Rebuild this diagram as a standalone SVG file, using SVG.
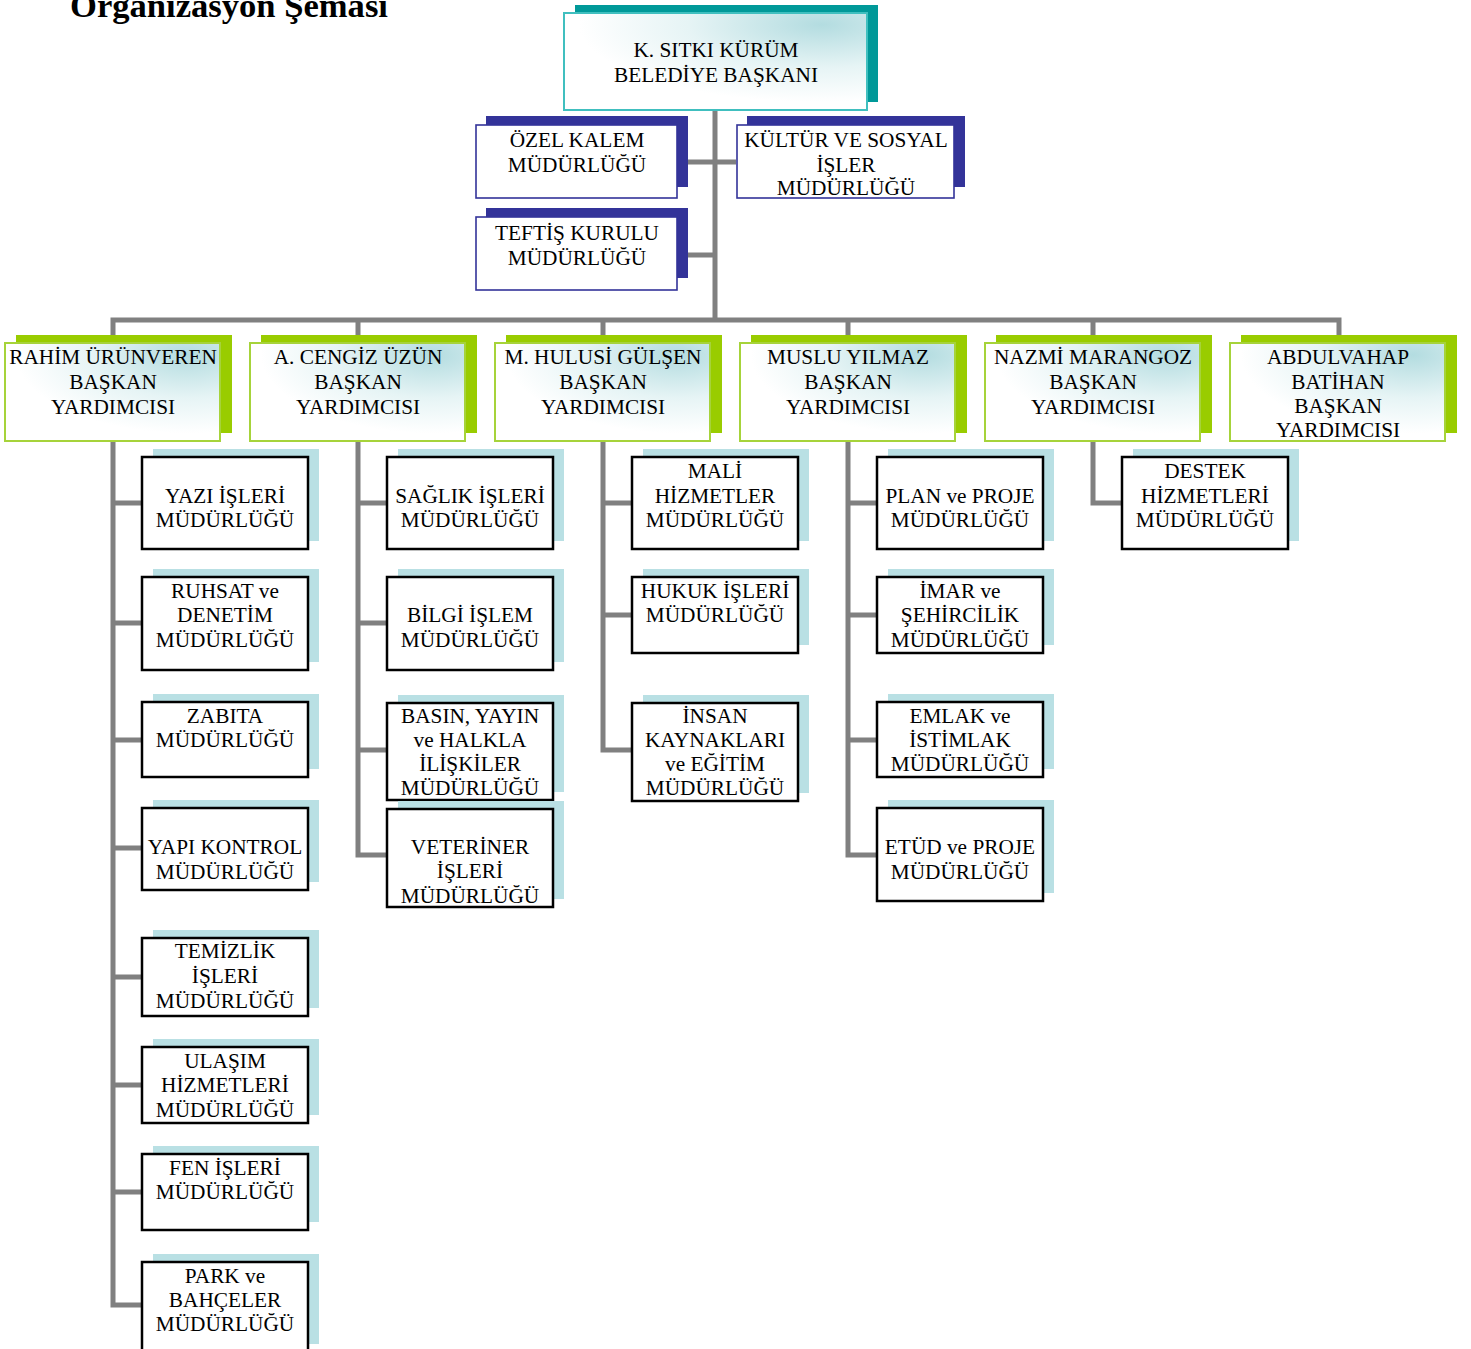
<svg xmlns="http://www.w3.org/2000/svg" width="1471" height="1349" viewBox="0 0 1471 1349">
<defs>
<radialGradient id="g" cx="0.85" cy="0.12" r="0.8">
<stop offset="0" stop-color="#b3dce0"/>
<stop offset="0.55" stop-color="#e6f4f5"/>
<stop offset="1" stop-color="#ffffff"/>
</radialGradient>
</defs>
<style>
text{font-family:"Liberation Serif","Times New Roman",serif;font-size:21.3px;fill:#000;text-anchor:middle}
.title{font-size:34.6px;font-weight:bold;text-anchor:start}
.conn{fill:none;stroke:#808080;stroke-width:5;stroke-linejoin:miter}
.rs{fill:#009999}
.rm{fill:url(#g);stroke:#40bfbf;stroke-width:2}
.ss{fill:#333399}
.sm{fill:#fff;stroke:#333399;stroke-width:1.6}
.vs{fill:#99cc00}
.vm{fill:url(#g);stroke:#a6d33a;stroke-width:2}
.cs{fill:#b9e0e4}
.cm{fill:#fff;stroke:#000;stroke-width:2.5}
</style>
<rect width="1471" height="1349" fill="#fff"/>
<text class="title" x="70" y="17">Organizasyon Şeması</text>

<g id="connectors">
<path class="conn" d="M715,111 V320"/>
<path class="conn" d="M677,162 H736"/>
<path class="conn" d="M677,255 H715"/>
<path class="conn" d="M113,343 V320 H1339 V343"/>
<path class="conn" d="M358,320 V343 M603,320 V343 M848,320 V343 M1093,320 V343"/>
<path class="conn" d="M113,441 V1305 H142 M113,503 H142 M113,623 H142 M113,740 H142 M113,848 H142 M113,977 H142 M113,1085 H142 M113,1192 H142"/>
<path class="conn" d="M358,441 V855 H387 M358,503 H387 M358,623 H387 M358,750 H387"/>
<path class="conn" d="M603,441 V750 H632 M603,503 H632 M603,615 H632"/>
<path class="conn" d="M848,441 V855 H877 M848,503 H877 M848,615 H877 M848,740 H877"/>
<path class="conn" d="M1093,441 V503 H1122"/>
</g>

<g id="root">
<rect class="rs" x="575" y="5" width="303" height="97"/>
<rect class="rm" x="564" y="13" width="303" height="97"/>
<text x="716" y="57">K. SITKI KÜRÜM</text>
<text x="716" y="82">BELEDİYE BAŞKANI</text>
</g>

<g id="ozel-kalem">
<rect class="ss" x="486" y="116" width="202" height="71"/>
<rect class="sm" x="476" y="125" width="201" height="73"/>
<text x="577" y="147">ÖZEL KALEM</text>
<text x="577" y="172">MÜDÜRLÜĞÜ</text>
</g>

<g id="kultur">
<rect class="ss" x="747" y="116" width="218" height="71"/>
<rect class="sm" x="737" y="125" width="217" height="73"/>
<text x="846" y="147">KÜLTÜR VE SOSYAL</text>
<text x="846" y="172">İŞLER</text>
<text x="846" y="195">MÜDÜRLÜĞÜ</text>
</g>

<g id="teftis">
<rect class="ss" x="486" y="208" width="202" height="70"/>
<rect class="sm" x="476" y="217" width="201" height="73"/>
<text x="577" y="240">TEFTİŞ KURULU</text>
<text x="577" y="265">MÜDÜRLÜĞÜ</text>
</g>

<g id="vp-rahim">
<rect class="vs" x="16" y="335" width="216" height="98"/>
<rect class="vm" x="5" y="343" width="215" height="98"/>
<text x="113" y="364">RAHİM ÜRÜNVEREN</text>
<text x="113" y="389">BAŞKAN</text>
<text x="113" y="414">YARDIMCISI</text>
</g>
<g id="vp-cengiz">
<rect class="vs" x="261" y="335" width="216" height="98"/>
<rect class="vm" x="250" y="343" width="215" height="98"/>
<text x="358" y="364">A. CENGİZ ÜZÜN</text>
<text x="358" y="389">BAŞKAN</text>
<text x="358" y="414">YARDIMCISI</text>
</g>
<g id="vp-hulusi">
<rect class="vs" x="506" y="335" width="216" height="98"/>
<rect class="vm" x="495" y="343" width="215" height="98"/>
<text x="603" y="364">M. HULUSİ GÜLŞEN</text>
<text x="603" y="389">BAŞKAN</text>
<text x="603" y="414">YARDIMCISI</text>
</g>
<g id="vp-muslu">
<rect class="vs" x="751" y="335" width="216" height="98"/>
<rect class="vm" x="740" y="343" width="215" height="98"/>
<text x="848" y="364">MUSLU YILMAZ</text>
<text x="848" y="389">BAŞKAN</text>
<text x="848" y="414">YARDIMCISI</text>
</g>
<g id="vp-nazmi">
<rect class="vs" x="996" y="335" width="216" height="98"/>
<rect class="vm" x="985" y="343" width="215" height="98"/>
<text x="1093" y="364">NAZMİ MARANGOZ</text>
<text x="1093" y="389">BAŞKAN</text>
<text x="1093" y="414">YARDIMCISI</text>
</g>
<g id="vp-abdulvahap">
<rect class="vs" x="1241" y="335" width="216" height="98"/>
<rect class="vm" x="1230" y="343" width="215" height="98"/>
<text x="1338" y="364">ABDULVAHAP</text>
<text x="1338" y="389">BATİHAN</text>
<text x="1338" y="413">BAŞKAN</text>
<text x="1338" y="437">YARDIMCISI</text>
</g>

<!-- Column 1 -->
<g id="yazi-isleri">
<rect class="cs" x="153" y="449" width="166" height="92"/>
<rect class="cm" x="142" y="457" width="166" height="92"/>
<text x="225" y="503">YAZI İŞLERİ</text>
<text x="225" y="527">MÜDÜRLÜĞÜ</text>
</g>
<g id="ruhsat">
<rect class="cs" x="153" y="569" width="166" height="93"/>
<rect class="cm" x="142" y="577" width="166" height="93"/>
<text x="225" y="598">RUHSAT ve</text>
<text x="225" y="622">DENETİM</text>
<text x="225" y="647">MÜDÜRLÜĞÜ</text>
</g>
<g id="zabita">
<rect class="cs" x="153" y="694" width="166" height="75"/>
<rect class="cm" x="142" y="702" width="166" height="75"/>
<text x="225" y="723">ZABITA</text>
<text x="225" y="747">MÜDÜRLÜĞÜ</text>
</g>
<g id="yapi-kontrol">
<rect class="cs" x="153" y="800" width="166" height="82"/>
<rect class="cm" x="142" y="808" width="166" height="82"/>
<text x="225" y="854">YAPI KONTROL</text>
<text x="225" y="879">MÜDÜRLÜĞÜ</text>
</g>
<g id="temizlik">
<rect class="cs" x="153" y="930" width="166" height="78"/>
<rect class="cm" x="142" y="938" width="166" height="78"/>
<text x="225" y="958">TEMİZLİK</text>
<text x="225" y="983">İŞLERİ</text>
<text x="225" y="1008">MÜDÜRLÜĞÜ</text>
</g>
<g id="ulasim">
<rect class="cs" x="153" y="1039" width="166" height="76"/>
<rect class="cm" x="142" y="1047" width="166" height="76"/>
<text x="225" y="1068">ULAŞIM</text>
<text x="225" y="1092">HİZMETLERİ</text>
<text x="225" y="1117">MÜDÜRLÜĞÜ</text>
</g>
<g id="fen-isleri">
<rect class="cs" x="153" y="1146" width="166" height="76"/>
<rect class="cm" x="142" y="1154" width="166" height="76"/>
<text x="225" y="1175">FEN İŞLERİ</text>
<text x="225" y="1199">MÜDÜRLÜĞÜ</text>
</g>
<g id="park-bahceler">
<rect class="cs" x="153" y="1254" width="166" height="90"/>
<rect class="cm" x="142" y="1262" width="166" height="92"/>
<text x="225" y="1283">PARK ve</text>
<text x="225" y="1307">BAHÇELER</text>
<text x="225" y="1331">MÜDÜRLÜĞÜ</text>
</g>

<!-- Column 2 -->
<g id="saglik">
<rect class="cs" x="398" y="449" width="166" height="92"/>
<rect class="cm" x="387" y="457" width="166" height="92"/>
<text x="470" y="503">SAĞLIK İŞLERİ</text>
<text x="470" y="527">MÜDÜRLÜĞÜ</text>
</g>
<g id="bilgi-islem">
<rect class="cs" x="398" y="569" width="166" height="93"/>
<rect class="cm" x="387" y="577" width="166" height="93"/>
<text x="470" y="622">BİLGİ İŞLEM</text>
<text x="470" y="647">MÜDÜRLÜĞÜ</text>
</g>
<g id="basin-yayin">
<rect class="cs" x="398" y="695" width="166" height="97"/>
<rect class="cm" x="387" y="703" width="166" height="97"/>
<text x="470" y="723">BASIN, YAYIN</text>
<text x="470" y="747">ve HALKLA</text>
<text x="470" y="771">İLİŞKİLER</text>
<text x="470" y="795">MÜDÜRLÜĞÜ</text>
</g>
<g id="veteriner">
<rect class="cs" x="398" y="801" width="166" height="98"/>
<rect class="cm" x="387" y="809" width="166" height="98"/>
<text x="470" y="854">VETERİNER</text>
<text x="470" y="878">İŞLERİ</text>
<text x="470" y="903">MÜDÜRLÜĞÜ</text>
</g>

<!-- Column 3 -->
<g id="mali-hizmetler">
<rect class="cs" x="643" y="449" width="166" height="92"/>
<rect class="cm" x="632" y="457" width="166" height="92"/>
<text x="715" y="478">MALİ</text>
<text x="715" y="503">HİZMETLER</text>
<text x="715" y="527">MÜDÜRLÜĞÜ</text>
</g>
<g id="hukuk">
<rect class="cs" x="643" y="569" width="166" height="76"/>
<rect class="cm" x="632" y="577" width="166" height="76"/>
<text x="715" y="598">HUKUK İŞLERİ</text>
<text x="715" y="622">MÜDÜRLÜĞÜ</text>
</g>
<g id="insan-kaynaklari">
<rect class="cs" x="643" y="695" width="166" height="98"/>
<rect class="cm" x="632" y="703" width="166" height="98"/>
<text x="715" y="723">İNSAN</text>
<text x="715" y="747">KAYNAKLARI</text>
<text x="715" y="771">ve EĞİTİM</text>
<text x="715" y="795">MÜDÜRLÜĞÜ</text>
</g>

<!-- Column 4 -->
<g id="plan-proje">
<rect class="cs" x="888" y="449" width="166" height="92"/>
<rect class="cm" x="877" y="457" width="166" height="92"/>
<text x="960" y="503">PLAN ve PROJE</text>
<text x="960" y="527">MÜDÜRLÜĞÜ</text>
</g>
<g id="imar">
<rect class="cs" x="888" y="569" width="166" height="76"/>
<rect class="cm" x="877" y="577" width="166" height="76"/>
<text x="960" y="598">İMAR ve</text>
<text x="960" y="622">ŞEHİRCİLİK</text>
<text x="960" y="647">MÜDÜRLÜĞÜ</text>
</g>
<g id="emlak">
<rect class="cs" x="888" y="694" width="166" height="75"/>
<rect class="cm" x="877" y="702" width="166" height="75"/>
<text x="960" y="723">EMLAK ve</text>
<text x="960" y="747">İSTİMLAK</text>
<text x="960" y="771">MÜDÜRLÜĞÜ</text>
</g>
<g id="etud-proje">
<rect class="cs" x="888" y="800" width="166" height="93"/>
<rect class="cm" x="877" y="808" width="166" height="93"/>
<text x="960" y="854">ETÜD ve PROJE</text>
<text x="960" y="879">MÜDÜRLÜĞÜ</text>
</g>

<!-- Column 5 -->
<g id="destek">
<rect class="cs" x="1133" y="449" width="166" height="92"/>
<rect class="cm" x="1122" y="457" width="166" height="92"/>
<text x="1205" y="478">DESTEK</text>
<text x="1205" y="503">HİZMETLERİ</text>
<text x="1205" y="527">MÜDÜRLÜĞÜ</text>
</g>
</svg>
